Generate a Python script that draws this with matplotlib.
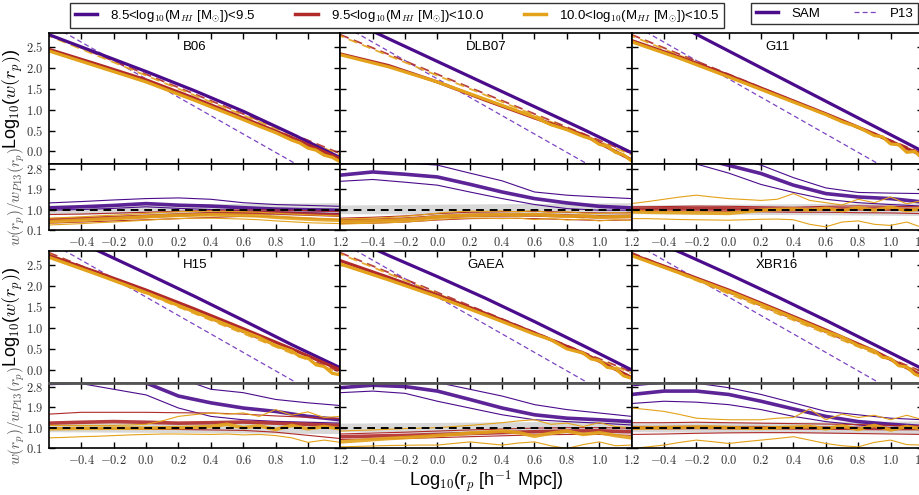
import matplotlib
matplotlib.use('Agg')
import matplotlib.pyplot as plt
from matplotlib.lines import Line2D
from matplotlib.ticker import FuncFormatter

plt.rcParams['font.family'] = ['Liberation Sans', 'DejaVu Sans']
plt.rcParams['mathtext.fontset'] = 'cm'
plt.rcParams['axes.linewidth'] = 1.2

# colours of the three HI mass bins
PURPLE = '#4b0c8c'
RED = '#b02a2a'
ORANGE = '#e3a21a'
P13_PURPLE = '#7d45c2'

bin_labels = [r'8.5<log$_{10}$(M$_{HI}$ [M$_{\odot}$])<9.5',
              r'9.5<log$_{10}$(M$_{HI}$ [M$_{\odot}$])<10.0',
              r'10.0<log$_{10}$(M$_{HI}$ [M$_{\odot}$])<10.5']
models = ['B06', 'DLB07', 'G11', 'H15', 'GAEA', 'XBR16']

# log10(r_p) grids
rp_main = [-0.6, -0.3, 0.0, 0.3, 0.6, 0.9, 1.2]
rp_main_fine = [-0.6, -0.3, 0.0, 0.3, 0.6, 0.7, 0.8, 0.9, 0.95, 1.0,
                1.05, 1.1, 1.15, 1.2]
rp_ratio = [-0.6, -0.4, -0.2, 0.0, 0.2, 0.4, 0.6, 0.8, 1.0, 1.2]
rp_fine = [-0.6, -0.5, -0.4, -0.3, -0.2, -0.1, 0.0, 0.1, 0.2, 0.3,
           0.4, 0.5, 0.6, 0.7, 0.8, 0.9, 1.0, 1.1, 1.2]

# P13 power-law fits (end points), per bin
p13_x = [-0.6, 1.2]
p13_purple = [3.05, -0.9]
p13_red = [2.79, -0.05]
p13_orange = [2.76, -0.08]

# SAM log10 w(r_p), per model: purple, red (rp_main), orange (rp_main_fine)
sam_b06 = ([2.79, 2.35, 1.91, 1.45, 0.96, 0.42, -0.15],
           [2.44, 2.08, 1.71, 1.27, 0.80, 0.33, -0.18],
           [2.40, 2.03, 1.66, 1.22, 0.76, 0.60, 0.45, 0.27, 0.20, 0.08,
            0.03, -0.09, -0.14, -0.25])
sam_dlb07 = ([3.24, 2.69, 2.15, 1.61, 1.07, 0.53, -0.03],
             [2.33, 2.05, 1.66, 1.22, 0.80, 0.40, -0.20],
             [2.31, 2.02, 1.66, 1.24, 0.82, 0.64, 0.52, 0.36, 0.30, 0.17,
              0.12, -0.02, -0.08, -0.23])
sam_g11 = ([3.60, 3.00, 2.40, 1.80, 1.20, 0.60, 0.00],
           [2.65, 2.25, 1.82, 1.36, 0.90, 0.42, -0.10],
           [2.62, 2.22, 1.78, 1.33, 0.88, 0.71, 0.58, 0.38, 0.35, 0.18,
            0.16, -0.02, 0.00, -0.18])
sam_h15 = ([3.40, 2.84, 2.30, 1.75, 1.18, 0.60, 0.05],
           [2.72, 2.32, 1.90, 1.45, 0.98, 0.50, 0.00],
           [2.68, 2.27, 1.84, 1.38, 0.92, 0.77, 0.58, 0.45, 0.32, 0.28,
            0.12, 0.08, -0.08, -0.12])
sam_gaea = ([3.25, 2.72, 2.22, 1.70, 1.15, 0.58, 0.00],
            [2.60, 2.20, 1.78, 1.34, 0.88, 0.40, -0.18],
            [2.52, 2.14, 1.74, 1.30, 0.85, 0.72, 0.50, 0.40, 0.26, 0.22,
             0.06, 0.03, -0.14, -0.20])
sam_xbr16 = ([3.30, 2.80, 2.28, 1.74, 1.18, 0.60, 0.02],
             [2.75, 2.33, 1.90, 1.43, 0.95, 0.45, -0.15],
             [2.72, 2.30, 1.87, 1.40, 0.92, 0.78, 0.58, 0.45, 0.30, 0.27,
              0.10, 0.07, -0.10, -0.18])

# ratio w/w_P13 per model: (mid, lo, hi) for purple and red on rp_ratio,
# orange on rp_fine
ratio_b06 = (
    ([1.07, 1.12, 1.18, 1.26, 1.19, 1.15, 1.08, 1.02, 0.99, 0.97],
     [0.97, 1.00, 1.05, 1.12, 1.05, 1.00, 0.95, 0.90, 0.86, 0.82],
     [1.29, 1.35, 1.42, 1.48, 1.51, 1.45, 1.30, 1.22, 1.18, 1.14]),
    ([0.55, 0.60, 0.65, 0.70, 0.76, 0.82, 0.85, 0.85, 0.80, 0.75],
     [0.40, 0.45, 0.50, 0.55, 0.60, 0.65, 0.70, 0.68, 0.62, 0.56],
     [0.78, 0.80, 0.84, 0.88, 0.92, 0.96, 0.98, 0.98, 0.95, 0.90]),
    ([0.46, 0.50, 0.53, 0.57, 0.60, 0.64, 0.68, 0.72, 0.74, 0.76,
      0.77, 0.76, 0.74, 0.72, 0.66, 0.62, 0.58, 0.55, 0.53],
     [0.32, 0.35, 0.38, 0.42, 0.45, 0.49, 0.53, 0.57, 0.60, 0.62,
      0.62, 0.60, 0.58, 0.55, 0.50, 0.46, 0.42, 0.40, 0.38],
     [0.62, 0.65, 0.68, 0.72, 0.75, 0.79, 0.83, 0.87, 0.90, 0.92,
      0.93, 0.92, 0.90, 0.88, 0.84, 0.80, 0.77, 0.74, 0.72]))
ratio_dlb07 = (
    ([2.51, 2.65, 2.55, 2.43, 2.11, 1.77, 1.48, 1.29, 1.14, 1.07],
     [2.24, 2.32, 2.20, 2.07, 1.77, 1.48, 1.22, 1.04, 0.97, 0.97],
     [3.00, 3.10, 3.05, 2.95, 2.60, 2.26, 1.77, 1.63, 1.55, 1.48]),
    ([0.50, 0.53, 0.58, 0.68, 0.74, 0.76, 0.76, 0.72, 0.68, 0.70],
     [0.38, 0.40, 0.45, 0.54, 0.60, 0.62, 0.60, 0.56, 0.52, 0.54],
     [0.62, 0.66, 0.72, 0.82, 0.88, 0.90, 0.92, 0.88, 0.85, 0.86]),
    ([0.46, 0.48, 0.50, 0.52, 0.55, 0.60, 0.68, 0.72, 0.75, 0.76,
      0.77, 0.76, 0.78, 0.74, 0.70, 0.72, 0.66, 0.68, 0.70],
     [0.36, 0.38, 0.40, 0.42, 0.45, 0.50, 0.56, 0.60, 0.62, 0.62,
      0.60, 0.62, 0.56, 0.60, 0.54, 0.58, 0.50, 0.55, 0.52],
     [0.58, 0.60, 0.62, 0.65, 0.70, 0.76, 0.84, 0.90, 0.93, 0.92,
      0.94, 0.90, 0.95, 0.86, 0.90, 0.84, 0.82, 0.86, 0.84]))
ratio_g11 = (
    ([3.60, 3.50, 3.30, 2.94, 2.58, 2.07, 1.70, 1.55, 1.48, 1.33],
     [3.30, 3.20, 3.00, 2.60, 2.10, 1.75, 1.45, 1.30, 1.22, 1.15],
     [3.90, 3.80, 3.60, 3.30, 2.95, 2.40, 1.95, 1.75, 1.72, 1.70]),
    ([1.02, 1.03, 1.04, 1.03, 1.02, 1.00, 1.02, 1.03, 1.02, 1.00],
     [0.92, 0.92, 0.93, 0.92, 0.90, 0.88, 0.88, 0.86, 0.85, 0.82],
     [1.12, 1.13, 1.15, 1.14, 1.12, 1.10, 1.14, 1.16, 1.14, 1.12]),
    ([0.90, 0.88, 0.87, 0.86, 0.85, 0.84, 0.83, 0.90, 0.97, 1.00,
      1.02, 0.98, 1.05, 0.95, 1.08, 0.97, 1.10, 0.95, 1.05],
     [0.60, 0.60, 0.58, 0.56, 0.55, 0.54, 0.53, 0.55, 0.57, 0.58,
      0.55, 0.35, 0.24, 0.45, 0.50, 0.35, 0.30, 0.45, 0.20],
     [1.26, 1.35, 1.45, 1.55, 1.63, 1.55, 1.48, 1.44, 1.40, 1.45,
      1.70, 1.40, 1.30, 1.20, 1.45, 1.30, 1.55, 1.25, 1.40]))
ratio_h15 = (
    ([3.90, 3.70, 3.35, 2.98, 2.40, 2.10, 1.87, 1.72, 1.50, 1.35],
     [2.90, 2.95, 2.70, 2.45, 1.87, 1.50, 1.35, 1.28, 1.24, 1.20],
     [4.30, 4.10, 3.80, 3.50, 3.20, 2.70, 2.55, 2.25, 2.10, 1.98]),
    ([1.20, 1.24, 1.27, 1.24, 1.20, 1.22, 1.25, 1.20, 1.15, 1.10],
     [1.00, 0.98, 0.96, 0.93, 0.92, 0.90, 0.88, 0.80, 0.66, 0.52],
     [1.60, 1.68, 1.68, 1.68, 1.66, 1.65, 1.60, 1.52, 1.46, 1.40]),
    ([0.95, 0.96, 0.97, 0.97, 0.98, 0.98, 0.98, 0.99, 1.00, 1.02,
      1.05, 1.15, 1.00, 1.08, 0.92, 1.10, 0.95, 1.05, 0.95],
     [0.55, 0.57, 0.60, 0.62, 0.65, 0.68, 0.70, 0.72, 0.72, 0.71,
      0.70, 0.72, 0.68, 0.70, 0.65, 0.55, 0.35, 0.45, 0.35],
     [1.10, 1.10, 1.10, 1.10, 1.10, 1.12, 1.15, 1.30, 1.50, 1.58,
      1.65, 1.60, 1.65, 1.50, 1.80, 1.55, 1.70, 1.45, 1.50]))
ratio_gaea = (
    ([2.77, 2.88, 2.82, 2.62, 2.25, 1.87, 1.57, 1.42, 1.35, 1.27],
     [2.55, 2.62, 2.52, 2.17, 1.87, 1.57, 1.35, 1.27, 1.20, 1.12],
     [3.40, 3.50, 3.30, 3.00, 2.70, 2.40, 2.02, 1.80, 1.65, 1.50]),
    ([0.60, 0.63, 0.66, 0.70, 0.74, 0.78, 0.82, 0.85, 0.86, 0.82],
     [0.48, 0.50, 0.52, 0.56, 0.60, 0.64, 0.68, 0.70, 0.70, 0.66],
     [0.72, 0.76, 0.80, 0.85, 0.90, 0.94, 0.98, 1.00, 1.00, 0.98]),
    ([0.37, 0.42, 0.47, 0.52, 0.56, 0.60, 0.65, 0.70, 0.76, 0.80,
      0.85, 0.78, 0.62, 0.75, 0.85, 0.70, 0.78, 0.65, 0.55],
     [0.15, 0.17, 0.19, 0.21, 0.22, 0.23, 0.23, 0.30, 0.37, 0.30,
      0.23, 0.32, 0.37, 0.20, 0.08, 0.25, 0.37, 0.20, 0.23],
     [0.85, 0.88, 0.90, 0.93, 0.96, 0.98, 1.00, 1.05, 1.10, 1.16,
      1.22, 1.30, 1.35, 1.15, 1.20, 1.05, 1.22, 1.05, 1.00]))
ratio_xbr16 = (
    ([2.47, 2.62, 2.62, 2.47, 2.17, 1.83, 1.50, 1.27, 1.15, 1.05],
     [2.07, 2.17, 2.13, 2.02, 1.80, 1.50, 1.27, 1.12, 1.00, 0.90],
     [2.85, 2.97, 2.97, 2.77, 2.47, 2.10, 1.72, 1.57, 1.42, 1.35]),
    ([1.00, 1.00, 1.01, 1.00, 1.00, 0.99, 0.98, 0.97, 0.96, 0.96],
     [0.70, 0.72, 0.75, 0.77, 0.78, 0.78, 0.76, 0.74, 0.72, 0.70],
     [1.22, 1.22, 1.24, 1.22, 1.20, 1.18, 1.16, 1.14, 1.10, 1.08]),
    ([0.98, 0.99, 1.00, 1.01, 1.02, 1.02, 1.00, 0.98, 0.97, 1.00,
      1.02, 1.05, 0.95, 1.08, 0.92, 1.10, 0.90, 1.05, 0.95],
     [0.08, 0.15, 0.23, 0.35, 0.45, 0.38, 0.30, 0.38, 0.45, 0.52,
      0.60, 0.45, 0.30, 0.20, 0.15, 0.35, 0.45, 0.25, 0.23],
     [1.87, 1.80, 1.72, 1.58, 1.42, 1.38, 1.35, 1.35, 1.35, 1.42,
      1.45, 1.83, 1.35, 1.60, 1.45, 1.55, 1.35, 1.55, 1.35]))

# P13 uncertainty band around unity
band_x = [-0.6, 1.2]
band_lo = [0.82, 0.74]
band_hi = [1.20, 1.30]

sam_all = [sam_b06, sam_dlb07, sam_g11, sam_h15, sam_gaea, sam_xbr16]
ratio_all = [ratio_b06, ratio_dlb07, ratio_g11, ratio_h15, ratio_gaea, ratio_xbr16]

W, H = 920, 495
fig = plt.figure(figsize=(W / 100, H / 100), dpi=100)

x0, colw = 49, 291.3
rows = [(33, 164, 230), (251, 382.5, 448)]
xticks = [-0.4, -0.2, 0.0, 0.2, 0.4, 0.6, 0.8, 1.0, 1.2]
fmt = FuncFormatter(lambda v, p: r'$%.1f$' % v)


def style(ax):
    ax.tick_params(direction='in', top=True, right=True, length=4, width=1,
                   labelsize=9, colors='k', labelcolor='#333333', pad=4)
    ax.set_xlim(-0.6, 1.2)
    ax.set_xticks(xticks)


for i, name in enumerate(models):
    r, c = divmod(i, 3)
    top, mid, bot = rows[r]
    left = (x0 + c * colw) / W
    axm = fig.add_axes([left, 1 - mid / H, colw / W, (mid - top) / H])
    axr = fig.add_axes([left, 1 - bot / H, colw / W, (bot - mid) / H])

    # main panel
    axm.plot(p13_x, p13_purple, color=P13_PURPLE, lw=0.9, ls=(0, (4, 2.5)))
    axm.plot(p13_x, p13_red, color=RED, lw=1.3, ls=(0, (5, 3)), alpha=0.9)
    axm.plot(p13_x, p13_orange, color=ORANGE, lw=1.3, ls=(3, (5, 3)), alpha=0.9)
    pur, red, ora = sam_all[i]
    axm.plot(rp_main, pur, color=PURPLE, lw=2.3)
    axm.plot(rp_main, red, color=RED, lw=2.3)
    axm.plot(rp_main_fine, ora, color=ORANGE, lw=2.3)
    axm.set_ylim(-0.3, 2.83)
    axm.set_yticks([0.0, 0.5, 1.0, 1.5, 2.0, 2.5])
    style(axm)
    axm.tick_params(labelbottom=False)
    axm.text(0.5, 0.89, name, transform=axm.transAxes, ha='center',
             va='center', fontsize=9.5)

    # ratio panel
    axr.fill_between(band_x, band_lo, band_hi, color='#d8d8d8', lw=0)
    for k, (lines, col) in enumerate(zip(ratio_all[i], [PURPLE, RED, ORANGE])):
        xs = rp_fine if k == 2 else rp_ratio
        m, lo, hi = lines
        axr.plot(xs, lo, color=col, lw=0.8)
        axr.plot(xs, hi, color=col, lw=0.8)
        axr.plot(xs, m, color=col, lw=2.6, alpha=0.9)
    axr.axhline(1.0, color='k', lw=1.4, ls=(0, (4, 3)))
    axr.set_ylim(0.1, 3.0)
    axr.set_yticks([0.1, 1.0, 1.9, 2.8])
    style(axr)
    axr.xaxis.set_major_formatter(fmt)

    if c == 0:
        axm.yaxis.set_major_formatter(fmt)
        axr.yaxis.set_major_formatter(fmt)
    else:
        axm.tick_params(labelleft=False)
        axr.tick_params(labelleft=False)

    if r == 1:
        axm.spines['bottom'].set_color('#555555')
        axm.spines['bottom'].set_linewidth(2)
        axr.spines['top'].set_color('#555555')
        axr.spines['top'].set_linewidth(2)

    if c == 0:
        axm.set_ylabel(r'Log$_{10}$($w(r_p)$)', fontsize=13)
        axr.set_ylabel(r'$w(r_p)/w_{P13}(r_p)$', fontsize=11, color='#555555')
        axm.yaxis.set_label_coords(-0.082, 0.5)
        axr.yaxis.set_label_coords(-0.076, 0.5)
    if r == 1 and c == 1:
        axr.set_xlabel(r'Log$_{10}$(r$_p$ [h$^{-1}$ Mpc])', fontsize=13,
                       labelpad=1)

# legends
bin_handles = [Line2D([], [], color=col, lw=2.5) for col in [PURPLE, RED, ORANGE]]
leg1 = fig.legend(bin_handles, bin_labels, loc='upper left',
                  bbox_to_anchor=(70 / W, 1 - 3 / H), ncol=3, fontsize=9.5,
                  frameon=True, fancybox=False, edgecolor='k',
                  handlelength=1.7, columnspacing=3.0, borderaxespad=0,
                  borderpad=0.35, handletextpad=1.0)
leg1.get_frame().set_linewidth(1)
type_handles = [Line2D([], [], color=PURPLE, lw=2.5),
                Line2D([], [], color=P13_PURPLE, lw=0.9, ls=(0, (4, 2.5)))]
leg2 = fig.legend(type_handles, ['SAM', 'P13'], loc='upper left',
                  bbox_to_anchor=(751 / W, 1 - 3 / H), ncol=2, fontsize=9.5,
                  frameon=True, fancybox=False, edgecolor='k',
                  handlelength=1.7, columnspacing=2.6, borderaxespad=0,
                  borderpad=0.35, handletextpad=1.0)
leg2.get_frame().set_linewidth(1)

fig.savefig('out.png', dpi=100)
